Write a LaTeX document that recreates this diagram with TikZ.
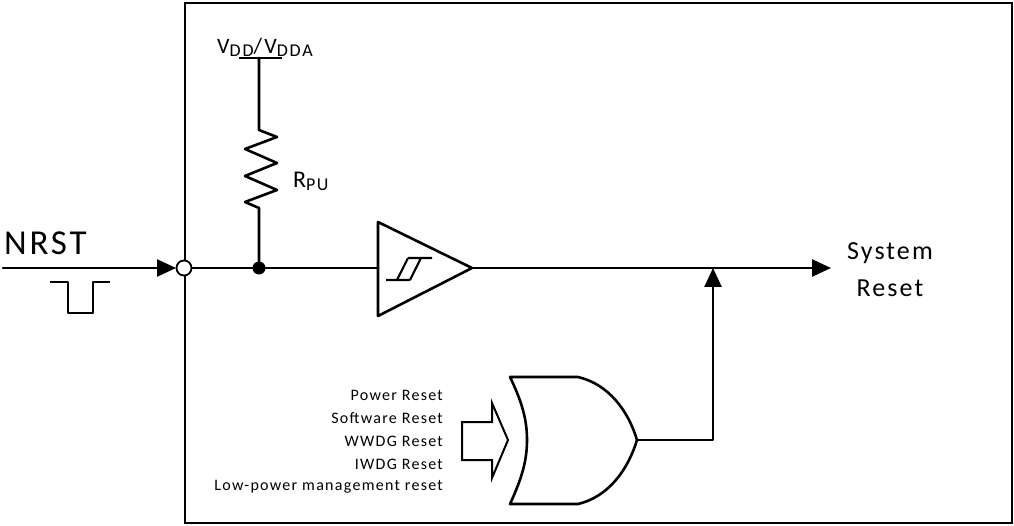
\documentclass[tikz,border=0pt]{standalone}
\usepackage{fontspec}
\setmainfont{Carlito}
\newfontfamily\wide[LetterSpace=8]{Carlito}
\newfontfamily\wider[LetterSpace=10]{Carlito}
\usetikzlibrary{arrows.meta}
\tikzset{
  wire/.style={line width=2.6pt, line cap=round, line join=round},
  boxline/.style={line width=2pt},
  sig/.style={wire, -{Triangle[length=19pt,width=17pt]}},
  opencirc/.style={circle, draw, fill=white, line width=1.8pt, minimum size=15pt, inner sep=0pt},
  dotnode/.style={circle, fill=black, minimum size=13pt, inner sep=0pt},
  lbl/.style={inner sep=0pt, font=\wide\fontsize{16}{23}\selectfont},
}
\begin{document}
\begin{tikzpicture}[x=1pt,y=-1pt]
\useasboundingbox (0,0) rectangle (1014,526);
% outer box
\draw[boxline] (185,3) rectangle (1012,523);
% coordinates
\coordinate (nrstL) at (3,268);
\coordinate (vddL) at (239,58);
\coordinate (vddR) at (282,58);
\coordinate (vdd) at (259,58);
\coordinate (rtop) at (259,130);
\coordinate (rbot) at (259,208);
\coordinate (bufin) at (378,268);
\coordinate (bufout) at (472,268);
\coordinate (sysR) at (831,268);
\coordinate (merge) at (713,268);
\coordinate (orout) at (637,440);
% pin and junction
\node[dotnode] (jn) at (259,268) {};
% input
\draw[sig] (nrstL) -- (176,268);
\node[opencirc] (pin) at (184,268) {};
\draw[wire] (pin.east) -- (jn) -- (bufin);
% pulse
\draw[wire, line cap=butt] (50,282) -- (68,282) -- (68,313) -- (93,313) -- (93,282) -- (110,282);
% VDD bar and resistor
\draw[wire, line cap=butt] (vddL) -- (vddR);
\draw[wire] (vdd) -- (rtop) -- (277,137) -- (245,149) -- (277,163) -- (245,176) -- (277,190) -- (245,202) -- (rbot) -- (jn);
% buffer
\draw[wire] (bufin |- 0,222) -- (bufout) -- (bufin |- 0,316) -- cycle;
\draw[line width=2.2pt] (386,280) -- (410,280) (408,258) -- (432,258) (397,280) -- (408,258) (410,280) -- (421,258);
% output
\draw[sig] (bufout) -- (sysR);
% OR gate
\draw[wire] (510,377) -- (578,377) .. controls (608,384) and (628,410) .. (orout)
  .. controls (628,470) and (608,497) .. (578,504) -- (510,504)
  .. controls (521,480) and (527,462) .. (527,440)
  .. controls (527,418) and (521,400) .. cycle;
\draw[sig] (orout) -| (merge);
% block arrow
\draw[line width=2pt, line join=miter] (462,422) -- (492,422) -- (492,403) -- (508,440) -- (492,478) -- (492,460) -- (462,460) -- cycle;
% labels
\node[anchor=base west, inner sep=0pt, font=\wide\fontsize{35}{38}\selectfont] (nrst) at (4,255) {NRST};
\node[anchor=base, inner sep=0pt, font=\wider\fontsize{22}{24}\selectfont] (vddlbl) at (265,54) {V\raisebox{-3pt}{\fontsize{18}{20}\selectfont DD}/V\raisebox{-3pt}{\fontsize{18}{20}\selectfont DDA}};
\node[anchor=base west, inner sep=0pt, font=\wide\fontsize{24}{26}\selectfont] (rpu) at (293,188) {R\raisebox{-3pt}{\fontsize{18}{20}\selectfont PU}};
\node[align=center, inner sep=0pt, font=\wide\fontsize{26}{37}\selectfont] (sys) at (890,270) {System\\Reset};
\node[lbl, anchor=east] (l1) at (443,395) {Power Reset};
\node[lbl, anchor=east] (l2) at (443,418) {Software Reset};
\node[lbl, anchor=east] (l3) at (443,441) {WWDG Reset};
\node[lbl, anchor=east] (l4) at (443,464) {IWDG Reset};
\node[lbl, anchor=east] (l5) at (443,487) {Low-power management reset};
\end{tikzpicture}
\end{document}
